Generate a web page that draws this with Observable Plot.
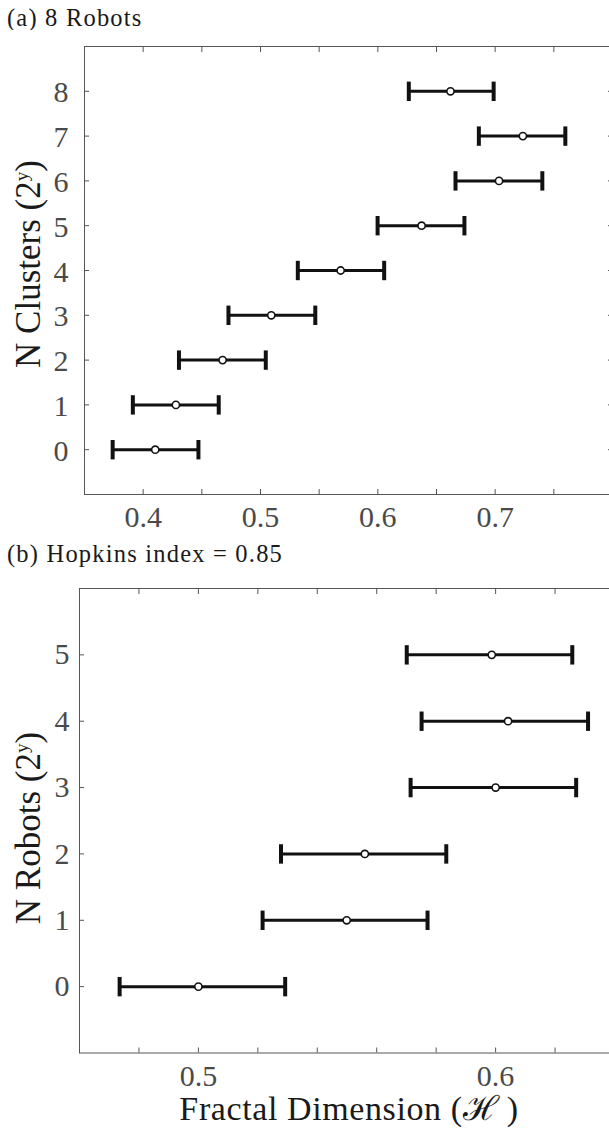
<!DOCTYPE html>
<html><head><meta charset="utf-8">
<script src="https://cdn.jsdelivr.net/npm/d3@7"></script>
<script src="https://cdn.jsdelivr.net/npm/@observablehq/plot@0.6"></script>
<style>
html,body{margin:0;padding:0;background:#fff;overflow:hidden;}
#root{position:relative;width:609px;height:1128px;overflow:hidden;font-family:"Liberation Serif","Times New Roman",serif;}
.title{position:absolute;left:7px;font-size:24.5px;letter-spacing:1.2px;line-height:1;color:#1a1a1a;white-space:nowrap;}
.ylab{position:absolute;font-size:35px;line-height:1;color:#1a1a1a;white-space:nowrap;transform:translate(-50%,-50%) rotate(-90deg);}
.ylab sup{font-size:0.55em;vertical-align:0.62em;line-height:0;}
.xlab{position:absolute;font-size:34px;line-height:1;height:33px;color:#1a1a1a;white-space:nowrap;letter-spacing:0.6px;transform:translateX(-50%);}
.panel{position:absolute;left:0;}
</style>
</head><body>
<div id="root"></div>
<script>
// ---- data ----
// Panel (a): 8 robots, N clusters 2^y
const clusterExp = [0, 1, 2, 3, 4, 5, 6, 7, 8];
const clusterMean = [0.4103, 0.4279, 0.4677, 0.5092, 0.5683, 0.6373, 0.7033, 0.7236, 0.6619];
const clusterLow  = [0.3740, 0.3912, 0.4305, 0.4727, 0.5318, 0.5998, 0.6662, 0.6861, 0.6264];
const clusterHigh = [0.4471, 0.4644, 0.5045, 0.5467, 0.6054, 0.6738, 0.7402, 0.7598, 0.6987];
const xTicksA = [0.4, 0.5, 0.6, 0.7];
const xMinorA = [0.4, 0.45, 0.5, 0.55, 0.6, 0.65, 0.7, 0.75];
const yTicksA = [0, 1, 2, 3, 4, 5, 6, 7, 8];

// Panel (b): Hopkins index 0.85, N robots 2^y
const robotExp = [0, 1, 2, 3, 4, 5];
const robotMean = [0.5000, 0.5499, 0.5560, 0.6000, 0.6042, 0.5987];
const robotLow  = [0.4735, 0.5216, 0.5278, 0.5714, 0.5751, 0.5701];
const robotHigh = [0.5292, 0.5771, 0.5834, 0.6271, 0.6311, 0.6258];
const xTicksB = [0.5, 0.6];
const xMinorB = [0.48, 0.5, 0.52, 0.54, 0.56, 0.58, 0.6, 0.62];
const yTicksB = [0, 1, 2, 3, 4, 5];

const tableA = clusterExp.map((k, i) => ({k, mean: clusterMean[i], lo: clusterLow[i], hi: clusterHigh[i]}));
const tableB = robotExp.map((k, i) => ({k, mean: robotMean[i], lo: robotLow[i], hi: robotHigh[i]}));

const root = document.getElementById("root");
const FONT = '"Liberation Serif","Times New Roman",serif';
const AX = "#555";
const TXT = "#4a4a4a";
const BAR = "#111";

const capSymbol = {
  draw(context, size) {
    const r = Math.sqrt(size / Math.PI);
    context.moveTo(0, -r);
    context.lineTo(0, r);
  }
};

function panel({table, xDomain, yDomain, xTicks, xMinor, yTicks, marginLeft, marginRight, marginTop, marginBottom, height, yPad, yDy}) {
  return Plot.plot({
    width: 620,
    height,
    marginLeft, marginRight, marginTop, marginBottom,
    style: `max-width:none;overflow:hidden;font-family:${FONT};background:white;`,
    x: {domain: xDomain, axis: null},
    y: {domain: yDomain, axis: null},
    marks: [
      Plot.frame({stroke: AX, strokeWidth: 1}),
      // inward tick marks on all four sides
      Plot.axisX(xMinor, {anchor: "bottom", tickSize: -5, tickFormat: () => "", stroke: AX, label: null}),
      Plot.axisX(xMinor, {anchor: "top", tickSize: -5, tickFormat: () => "", stroke: AX, label: null}),
      Plot.axisY(yTicks, {anchor: "left", tickSize: -5, tickFormat: () => "", stroke: AX, label: null}),
      Plot.axisY(yTicks, {anchor: "right", tickSize: -5, tickFormat: () => "", stroke: AX, label: null}),
      // tick labels
      Plot.axisX(xTicks, {anchor: "bottom", tickSize: 0, tickPadding: 11.5, fontSize: 30, fill: TXT, tickFormat: d => d.toString(), label: null}),
      Plot.axisY(yTicks, {anchor: "left", tickSize: 0, tickPadding: yPad, fontSize: 30, fill: TXT, dy: yDy, tickFormat: d => d.toString(), label: null}),
      // error bars
      Plot.ruleY(table, {y: "k", x1: "lo", x2: "hi", stroke: BAR, strokeWidth: 3}),
      Plot.dot(table, {x: "lo", y: "k", symbol: capSymbol, r: 9.7, stroke: BAR, strokeWidth: 4, fill: "none"}),
      Plot.dot(table, {x: "hi", y: "k", symbol: capSymbol, r: 9.7, stroke: BAR, strokeWidth: 4, fill: "none"}),
      Plot.dot(table, {x: "mean", y: "k", r: 3.6, fill: "white", stroke: BAR, strokeWidth: 1.6})
    ]
  });
}

function addDiv(cls, html, style) {
  const d = document.createElement("div");
  d.className = cls;
  d.innerHTML = html;
  Object.assign(d.style, style);
  root.appendChild(d);
  return d;
}

// Panel (a)
addDiv("title", "(a) 8 Robots", {top: "6.2px"});
const svgA = panel({table: tableA, xDomain: [0.35, 0.8], yDomain: [-1, 9], xTicks: xTicksA, xMinor: xMinorA, yTicks: yTicksA,
  marginLeft: 84, marginRight: 8, marginTop: 16, marginBottom: 44, height: 508, yPad: 16, yDy: 1.5});
svgA.classList.add("panel");
svgA.style.top = "30px";
svgA.style.position = "absolute";
root.appendChild(svgA);
addDiv("ylab", "N Clusters (2<sup>y</sup>)", {left: "27.5px", top: "264px"});

// Panel (b)
addDiv("title", "(b) Hopkins index = 0.85", {top: "542.2px"});
const svgB = panel({table: tableB, xDomain: [0.46, 0.64], yDomain: [-1, 6], xTicks: xTicksB, xMinor: xMinorB, yTicks: yTicksB,
  marginLeft: 79, marginRight: 6, marginTop: 16, marginBottom: 75.5, height: 556, yPad: 10, yDy: 0});
svgB.classList.add("panel");
svgB.style.top = "572px";
svgB.style.position = "absolute";
root.appendChild(svgB);
addDiv("ylab", "N Robots (2<sup>y</sup>)", {left: "27.5px", top: "828px"});
addDiv("xlab", "Fractal Dimension (\u210B\u2009)", {left: "349px", top: "1092px"});
</script>
</body></html>
